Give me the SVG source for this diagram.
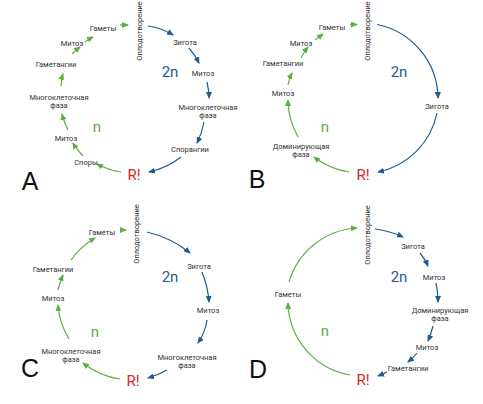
<svg xmlns="http://www.w3.org/2000/svg" width="483" height="404" viewBox="0 0 483 404">
<style>
.t{font-family:Roboto,"Liberation Sans",sans-serif;font-size:7.5px;fill:#333;text-anchor:middle}
.big{font-family:Roboto,"Liberation Sans",sans-serif;font-size:15px;text-anchor:middle}
.b2n{fill:#1d5b93}
.gn{fill:#5bb043}
.r{fill:#d8282b}
.lab{font-family:"Liberation Sans",Arial,sans-serif;font-size:25px;fill:#111;text-anchor:middle}
.cb{fill:none;stroke:#1d5b93;stroke-width:1.2;marker-end:url(#ab)}
.cg{fill:none;stroke:#5bb043;stroke-width:1.2;marker-end:url(#ag)}
</style>
<defs>
<marker id="ab" markerUnits="userSpaceOnUse" markerWidth="7" markerHeight="6" refX="6" refY="3" orient="auto"><path d="M0,0 L7,3 L0,6 z" fill="#1d5b93"/></marker>
<marker id="ag" markerUnits="userSpaceOnUse" markerWidth="7" markerHeight="6" refX="6" refY="3" orient="auto"><path d="M0,0 L7,3 L0,6 z" fill="#5bb043"/></marker>
</defs>
<rect width="483" height="404" fill="#fff"/>

<!-- Panel A -->
<g id="panelA">
<g id="connectorsA">
<path class="cg" d="M120,25 L128,25"/>
<path class="cb" d="M148,26 Q162,28 173,35"/>
<path class="cb" d="M189,48 Q195,55 199,63"/>
<path class="cb" d="M207,82 Q209,90 209,98"/>
<path class="cb" d="M204,122 Q202,133 197,143"/>
<path class="cb" d="M181,157 Q167,168 149,172"/>
<path class="cg" d="M121,172 Q108,170 97,164"/>
<path class="cg" d="M83,156 Q77,150 73,143"/>
<path class="cg" d="M68,130 Q64,122 62,114"/>
<path class="cg" d="M61,86 Q61,80 63,74"/>
<path class="cg" d="M72,54 Q76,50 80,47"/>
<path class="cg" d="M85,42 Q89,39 93,37"/>
</g>
<g id="A-gamety"><text class="t" x="103" y="30.5">Гаметы</text></g>
<g id="A-oplod"><text class="t" transform="translate(141.5,31) rotate(-90)">Оплодотворение</text></g>
<g id="A-zigota"><text class="t" x="185" y="44.5">Зигота</text></g>
<g id="A-2n"><text class="big b2n" x="170" y="77">2n</text></g>
<g id="A-mitoz1"><text class="t" x="203" y="75.5">Митоз</text></g>
<g id="A-mnogo1"><text class="t" x="208" y="109.5">Многоклеточная</text><text class="t" x="208" y="118">фаза</text></g>
<g id="A-sporangii"><text class="t" x="190" y="151.5">Спорангии</text></g>
<g id="A-R"><text class="big r" x="134" y="180">R!</text></g>
<g id="A-spory"><text class="t" x="86" y="164.5">Споры</text></g>
<g id="A-mitoz2"><text class="t" x="66" y="140.5">Митоз</text></g>
<g id="A-n"><text class="big gn" x="97" y="132">n</text></g>
<g id="A-mnogo2"><text class="t" x="59" y="99.5">Многоклеточная</text><text class="t" x="59" y="107.8">фаза</text></g>
<g id="A-gametangii"><text class="t" x="56" y="66.5">Гаметангии</text></g>
<g id="A-mitoz3"><text class="t" x="72" y="45.5">Митоз</text></g>
<g id="A-label"><text class="lab" x="30" y="190">A</text></g>
</g>

<!-- Panel B -->
<g id="panelB">
<g id="connectorsB">
<path class="cg" d="M350,24.5 L357,24.5"/>
<path class="cb" d="M377,24.5 A76,76 0 0 1 438,98"/>
<path class="cb" d="M437,113 A76,76 0 0 1 378,172"/>
<path class="cg" d="M349,172 A76,76 0 0 1 314,157"/>
<path class="cg" d="M298,137 A76,76 0 0 1 288,100"/>
<path class="cg" d="M288,85 Q289,79 292,73"/>
<path class="cg" d="M301,58 Q304,52 308,47"/>
<path class="cg" d="M315,40 Q319,37 323,34"/>
</g>
<g id="B-gamety"><text class="t" x="332" y="29.5">Гаметы</text></g>
<g id="B-oplod"><text class="t" transform="translate(370,31) rotate(-90)">Оплодотворение</text></g>
<g id="B-2n"><text class="big b2n" x="399" y="77">2n</text></g>
<g id="B-zigota"><text class="t" x="437" y="108.5">Зигота</text></g>
<g id="B-R"><text class="big r" x="363" y="180">R!</text></g>
<g id="B-domin"><text class="t" x="301" y="148.5">Доминирующая</text><text class="t" x="301" y="156.8">фаза</text></g>
<g id="B-n"><text class="big gn" x="325" y="132">n</text></g>
<g id="B-mitoz1"><text class="t" x="283" y="95.5">Митоз</text></g>
<g id="B-gametangii"><text class="t" x="283" y="65.5">Гаметангии</text></g>
<g id="B-mitoz2"><text class="t" x="301" y="45.5">Митоз</text></g>
<g id="B-label"><text class="lab" x="257" y="188">B</text></g>
</g>

<!-- Panel C -->
<g id="panelC">
<g id="connectorsC">
<path class="cg" d="M120,230 L126,230"/>
<path class="cb" d="M147,232 Q172,238 190,253"/>
<path class="cb" d="M202,272 Q208,287 209,302"/>
<path class="cb" d="M207,320 Q205,333 198,343"/>
<path class="cb" d="M167,370 Q158,375 148,378"/>
<path class="cg" d="M120,379 A76,76 0 0 1 83,363"/>
<path class="cg" d="M69,339 A76,76 0 0 1 58,305"/>
<path class="cg" d="M58,290 Q60,282 63,275"/>
<path class="cg" d="M71,260 A76,76 0 0 1 95,238"/>
</g>
<g id="C-gamety"><text class="t" x="102" y="234.5">Гаметы</text></g>
<g id="C-oplod"><text class="t" transform="translate(139,234) rotate(-90)">Оплодотворение</text></g>
<g id="C-zigota"><text class="t" x="199" y="268.5">Зигота</text></g>
<g id="C-2n"><text class="big b2n" x="170" y="282">2n</text></g>
<g id="C-mitoz1"><text class="t" x="208" y="312.5">Митоз</text></g>
<g id="C-mnogo1"><text class="t" x="187" y="359.5">Многоклеточная</text><text class="t" x="187" y="367.8">фаза</text></g>
<g id="C-R"><text class="big r" x="133" y="386">R!</text></g>
<g id="C-mnogo2"><text class="t" x="71" y="354">Многоклеточная</text><text class="t" x="71" y="362.3">фаза</text></g>
<g id="C-n"><text class="big gn" x="95" y="337">n</text></g>
<g id="C-mitoz2"><text class="t" x="53" y="300.5">Митоз</text></g>
<g id="C-gametangii"><text class="t" x="53" y="271.5">Гаметангии</text></g>
<g id="C-label"><text class="lab" x="30" y="377">C</text></g>
</g>

<!-- Panel D -->
<g id="panelD">
<g id="connectorsD">
<path class="cg" d="M289,282 A75,75 0 0 1 357,228"/>
<path class="cg" d="M350,375 A75,75 0 0 1 288,303"/>
<path class="cb" d="M375,229 Q390,231 403,237"/>
<path class="cb" d="M420,253 Q425,259 428,266"/>
<path class="cb" d="M436,283 Q438,292 438,302"/>
<path class="cb" d="M433,326 Q431,334 428,341"/>
<path class="cb" d="M417,353 Q413,358 408,362"/>
<path class="cb" d="M387,372 Q383,374 378,376"/>
</g>
<g id="D-oplod"><text class="t" transform="translate(370,235) rotate(-90)">Оплодотворение</text></g>
<g id="D-gamety"><text class="t" x="288" y="296.5">Гаметы</text></g>
<g id="D-n"><text class="big gn" x="325" y="336">n</text></g>
<g id="D-R"><text class="big r" x="363" y="385">R!</text></g>
<g id="D-zigota"><text class="t" x="413" y="248.5">Зигота</text></g>
<g id="D-2n"><text class="big b2n" x="399" y="282">2n</text></g>
<g id="D-mitoz1"><text class="t" x="434" y="279.5">Митоз</text></g>
<g id="D-domin"><text class="t" x="440" y="312.5">Доминирующая</text><text class="t" x="440" y="320.8">фаза</text></g>
<g id="D-mitoz2"><text class="t" x="427" y="349.5">Митоз</text></g>
<g id="D-gametangii"><text class="t" x="408" y="370.5">Гаметангии</text></g>
<g id="D-label"><text class="lab" x="258" y="378">D</text></g>
</g>
</svg>
